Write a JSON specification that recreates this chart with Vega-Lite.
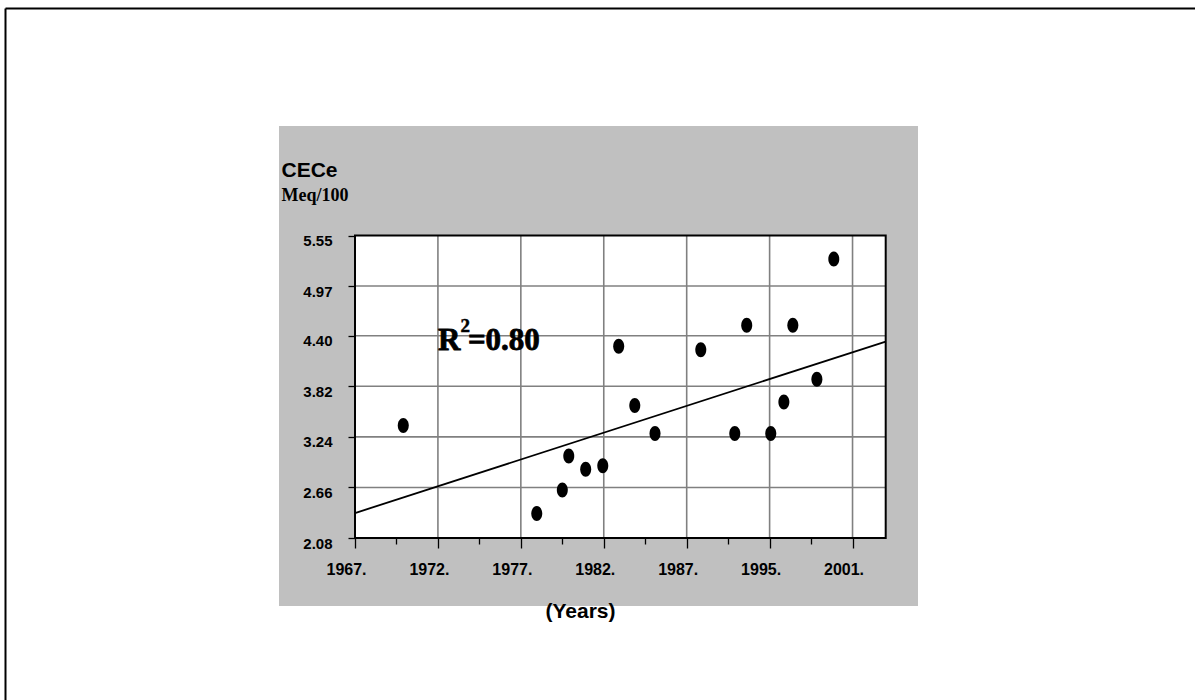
{
  "$schema": "https://vega.github.io/schema/vega-lite/v6.json",
  "width": 639,
  "height": 480,
  "autosize": {"type": "none"},
  "padding": {"left": 279, "top": 126, "right": 277, "bottom": 94},
  "background": "white",
  "config": {
    "font": "Liberation Sans",
    "view": {"fill": "#c0c0c0", "stroke": null}
  },
  "datasets": {
    "samples": [
      {"year": 1969.91, "cece": 3.37},
      {"year": 1977.96, "cece": 2.36},
      {"year": 1979.50, "cece": 2.63},
      {"year": 1979.89, "cece": 3.02},
      {"year": 1980.91, "cece": 2.87},
      {"year": 1981.94, "cece": 2.91},
      {"year": 1982.90, "cece": 4.28},
      {"year": 1983.87, "cece": 3.60},
      {"year": 1985.09, "cece": 3.28},
      {"year": 1987.85, "cece": 4.24},
      {"year": 1989.90, "cece": 3.28},
      {"year": 1990.62, "cece": 4.52},
      {"year": 1992.07, "cece": 3.28},
      {"year": 1992.86, "cece": 3.64},
      {"year": 1993.40, "cece": 4.52},
      {"year": 1994.85, "cece": 3.90},
      {"year": 1995.87, "cece": 5.28}
    ],
    "trend": [
      {"year": 1967, "fit": 2.366},
      {"year": 1999, "fit": 4.333}
    ],
    "xgrid": [
      {"year": 1972}, {"year": 1977}, {"year": 1982},
      {"year": 1987}, {"year": 1992}, {"year": 1997}
    ],
    "ygrid": [
      {"cece": 2.66}, {"cece": 3.24}, {"cece": 3.82},
      {"cece": 4.40}, {"cece": 4.97}
    ],
    "single": [{}]
  },
  "resolve": {
    "scale": {"x": "independent", "y": "independent"},
    "axis": {"x": "independent", "y": "independent"}
  },
  "layer": [
    {
      "layer": [
        {
          "description": "white plotting area",
          "data": {"name": "single"},
          "mark": {"type": "rect", "fill": "white", "strokeWidth": 0},
          "encoding": {
            "x": {"datum": 1967, "type": "quantitative"},
            "x2": {"datum": 1999},
            "y": {"datum": 2.08, "type": "quantitative"},
            "y2": {"datum": 5.55}
          }
        },
        {
          "description": "vertical grid lines",
          "data": {"name": "xgrid"},
          "mark": {"type": "rule", "color": "#808080", "strokeWidth": 1.6},
          "encoding": {
            "x": {"field": "year", "type": "quantitative"},
            "y": {"datum": 2.08, "type": "quantitative"},
            "y2": {"datum": 5.55}
          }
        },
        {
          "description": "horizontal grid lines",
          "data": {"name": "ygrid"},
          "mark": {"type": "rule", "color": "#808080", "strokeWidth": 1.6},
          "encoding": {
            "y": {"field": "cece", "type": "quantitative"},
            "x": {"datum": 1967, "type": "quantitative"},
            "x2": {"datum": 1999}
          }
        },
        {
          "description": "plot frame",
          "data": {"name": "single"},
          "mark": {"type": "rect", "filled": false, "stroke": "black", "strokeWidth": 2},
          "encoding": {
            "x": {"datum": 1967, "type": "quantitative"},
            "x2": {"datum": 1999},
            "y": {"datum": 2.08, "type": "quantitative"},
            "y2": {"datum": 5.55}
          }
        },
        {
          "description": "linear trend",
          "data": {"name": "trend"},
          "mark": {"type": "line", "color": "black", "strokeWidth": 1.8},
          "encoding": {
            "x": {"field": "year", "type": "quantitative"},
            "y": {"field": "fit", "type": "quantitative"}
          }
        },
        {
          "description": "CECe samples",
          "data": {"name": "samples"},
          "mark": {
            "type": "point",
            "shape": "M0,-1A0.733,1 0 1,1 0,1A0.733,1 0 1,1 0,-1Z",
            "filled": true,
            "fill": "black",
            "strokeWidth": 0,
            "opacity": 1,
            "size": 225
          },
          "encoding": {
            "x": {
              "field": "year",
              "type": "quantitative",
              "scale": {"domain": [1967, 1999], "range": [76, 606.7], "nice": false, "zero": false},
              "axis": {
                "orient": "bottom",
                "offset": -68,
                "values": [1967, 1968.25, 1969.5, 1970.75, 1972, 1973.25, 1974.5, 1975.75, 1977, 1978.25, 1979.5, 1980.75, 1982, 1983.25, 1984.5, 1985.75, 1987, 1988.25, 1989.5, 1990.75, 1992, 1993.25, 1994.5, 1995.75, 1997, 1998.25],
                "domain": false,
                "grid": false,
                "ticks": true,
                "tickColor": "black",
                "tickWidth": 1.3,
                "tickSize": {"condition": {"test": "(datum.value - 1967) % 5 == 0", "value": 10}, "value": 6},
                "labelExpr": "(datum.value - 1967) % 5 != 0 ? '' : datum.value == 1992 ? '1995.' : datum.value == 1997 ? '2001.' : datum.value + '.'",
                "labelFont": "Liberation Sans",
                "labelFontWeight": "bold",
                "labelFontSize": 16,
                "labelColor": "black",
                "labelPadding": 13,
                "labelOffset": -9,
                "labelFlush": false,
                "labelOverlap": false,
                "labelBound": false,
                "title": "(Years)",
                "titleFont": "Liberation Sans",
                "titleFontWeight": "bold",
                "titleFontSize": 21,
                "titleColor": "black",
                "titleX": 301,
                "titleY": 79,
                "titleAlign": "center",
                "titleBaseline": "alphabetic"
              }
            },
            "y": {
              "field": "cece",
              "type": "quantitative",
              "scale": {"domain": [2.08, 5.55], "range": [412, 109.5], "nice": false, "zero": false},
              "axis": {
                "orient": "left",
                "offset": -76,
                "values": [2.08, 2.225, 2.37, 2.515, 2.66, 2.805, 2.95, 3.095, 3.24, 3.385, 3.53, 3.675, 3.82, 3.965, 4.11, 4.255, 4.4, 4.5425, 4.685, 4.8275, 4.97, 5.115, 5.26, 5.405, 5.55],
                "domain": false,
                "grid": false,
                "ticks": true,
                "tickColor": "black",
                "tickWidth": 1.3,
                "tickSize": {"condition": {"test": "indexof([2.08, 2.66, 3.24, 3.82, 4.4, 4.97, 5.55], datum.value) >= 0", "value": 7}, "value": 4},
                "labelExpr": "indexof([2.08, 2.66, 3.24, 3.82, 4.4, 4.97, 5.55], datum.value) >= 0 ? format(datum.value, '.2f') : ''",
                "labelFont": "Liberation Sans",
                "labelFontWeight": "bold",
                "labelFontSize": 15,
                "labelColor": "black",
                "labelPadding": 16,
                "labelOffset": 5,
                "labelFlush": false,
                "labelOverlap": false,
                "labelBound": false,
                "title": "CECe",
                "titleFont": "Liberation Sans",
                "titleFontWeight": "bold",
                "titleFontSize": 21,
                "titleColor": "black",
                "titleAngle": 0,
                "titleAlign": "left",
                "titleBaseline": "alphabetic",
                "titleX": -74,
                "titleY": 50.5
              }
            }
          }
        },
        {
          "description": "coefficient of determination: R",
          "data": {"name": "single"},
          "mark": {
            "type": "text", "text": "R",
            "font": "Liberation Serif", "fontSize": 31, "fontWeight": "bold",
            "align": "left", "baseline": "alphabetic",
            "fill": "black", "stroke": "black", "strokeWidth": 0.8
          },
          "encoding": {
            "x": {"datum": 1972, "type": "quantitative"},
            "y": {"datum": 4.24, "type": "quantitative"}
          }
        },
        {
          "description": "coefficient of determination: exponent",
          "data": {"name": "single"},
          "mark": {
            "type": "text", "text": "2",
            "font": "Liberation Serif", "fontSize": 19, "fontWeight": "bold",
            "align": "left", "baseline": "alphabetic", "dx": 22.5, "dy": -18,
            "fill": "black", "stroke": "black", "strokeWidth": 0.5
          },
          "encoding": {
            "x": {"datum": 1972, "type": "quantitative"},
            "y": {"datum": 4.24, "type": "quantitative"}
          }
        },
        {
          "description": "coefficient of determination: value",
          "data": {"name": "single"},
          "mark": {
            "type": "text", "text": "=0.80",
            "font": "Liberation Serif", "fontSize": 31, "fontWeight": "bold",
            "align": "left", "baseline": "alphabetic", "dx": 30,
            "fill": "black", "stroke": "black", "strokeWidth": 0.8
          },
          "encoding": {
            "x": {"datum": 1972, "type": "quantitative"},
            "y": {"datum": 4.24, "type": "quantitative"}
          }
        }
      ]
    },
    {
      "description": "page border along the top and left, with the unit line",
      "data": {"name": "single"},
      "mark": {"type": "point", "opacity": 0},
      "encoding": {
        "x": {
          "datum": 0,
          "type": "quantitative",
          "scale": {"domain": [0, 1], "range": [-274, 916], "nice": false, "zero": false},
          "axis": {
            "orient": "top",
            "offset": 118,
            "domain": true,
            "domainColor": "black",
            "domainWidth": 2,
            "ticks": false,
            "labels": false,
            "grid": false,
            "title": null
          }
        },
        "y": {
          "datum": 0,
          "type": "quantitative",
          "scale": {"domain": [0, 1], "range": [574, -118], "nice": false, "zero": false},
          "axis": {
            "orient": "left",
            "offset": 274,
            "domain": true,
            "domainColor": "black",
            "domainWidth": 2,
            "ticks": false,
            "labels": false,
            "grid": false,
            "title": "Meq/100",
            "titleFont": "Liberation Serif",
            "titleFontSize": 18,
            "titleFontWeight": "bold",
            "titleColor": "black",
            "titleAngle": 0,
            "titleAlign": "left",
            "titleBaseline": "alphabetic",
            "titleX": 276,
            "titleY": 74
          }
        }
      }
    }
  ]
}
